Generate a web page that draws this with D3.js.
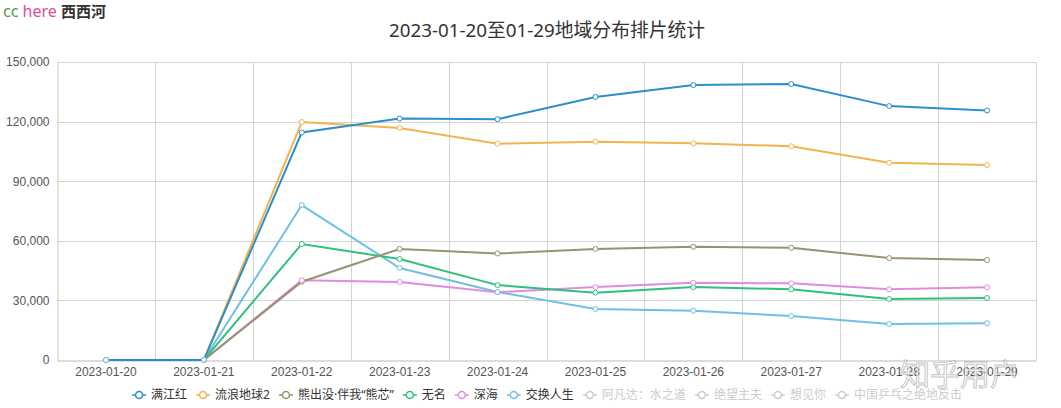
<!DOCTYPE html>
<html lang="zh">
<head>
<meta charset="UTF-8">
<title>2023-01-20至01-29地域分布排片统计</title>
<style>
  body { margin: 0; background: #fff; font-family: "Noto Sans", "Noto Sans CJK SC", sans-serif; }
  .axis text { fill: #555; font-size: 12px; }
  .grid line { stroke: #d4d4d4; stroke-width: 1; }
  .legend text { font-size: 12px; }
</style>
</head>
<body>
<div id="chart"></div>
<script src="https://cdn.jsdelivr.net/npm/d3@7/dist/d3.min.js"></script>
<script>
var dates = ['2023-01-20','2023-01-21','2023-01-22','2023-01-23','2023-01-24',
             '2023-01-25','2023-01-26','2023-01-27','2023-01-28','2023-01-29'];
var yTicks = [0, 30000, 60000, 90000, 120000, 150000];

var manjianghong = [0, 0, 114500, 121500, 121200, 132400, 138400, 138900, 127800, 125600];
var liulangdiqiu = [0, 0, 119800, 116800, 108900, 109900, 109100, 107600, 99300, 98150];
var xiongchumo   = [0, 0, 39400, 55900, 53600, 55900, 57000, 56500, 51300, 50300];
var wuming       = [0, 0, 58400, 50800, 37700, 33900, 36700, 35600, 30700, 31200];
var shenhai      = [0, 0, 40100, 39300, 34100, 36700, 38900, 38600, 35600, 36600];
var jiaohuan     = [0, 0, 78000, 46300, 34200, 25700, 24800, 22100, 18100, 18500];

var series = [
  { name: '满江红', values: manjianghong, color: '#2b8fcc', on: true },
  { name: '流浪地球2', values: liulangdiqiu, color: '#f1b44e', on: true },
  { name: '熊出没·伴我“熊芯”', values: xiongchumo, color: '#9a9170', on: true },
  { name: '无名', values: wuming, color: '#2dc17b', on: true },
  { name: '深海', values: shenhai, color: '#e08ce0', on: true },
  { name: '交换人生', values: jiaohuan, color: '#70bfe4', on: true },
  { name: '阿凡达：水之道', values: [], color: '#ccc', on: false },
  { name: '绝望主夫', values: [], color: '#ccc', on: false },
  { name: '想见你', values: [], color: '#ccc', on: false },
  { name: '中国乒乓之绝地反击', values: [], color: '#ccc', on: false }
];

var width = 1061, height = 408;
var margin = { top: 62, right: 25, bottom: 48, left: 57 };
var innerW = width - margin.left - margin.right;
var innerH = height - margin.top - margin.bottom;

var svg = d3.select('#chart').append('svg')
  .attr('width', width)
  .attr('height', height);

// watermark top-left
var wm = svg.append('text').attr('x', 3).attr('y', 17).style('font-size', '16px');
wm.append('tspan').attr('fill', '#4f9a4f').text('cc ');
wm.append('tspan').attr('fill', '#d94f9c').text('here ');
wm.append('tspan').attr('fill', '#333').style('font-weight', 'bold').style('font-size', '15px').text('西西河');

svg.append('text')
  .attr('x', 547)
  .attr('y', 37)
  .attr('text-anchor', 'middle')
  .style('font-size', '18.8px')
  .style('fill', '#333')
  .text('2023-01-20至01-29地域分布排片统计');

var g = svg.append('g')
  .attr('transform', 'translate(' + margin.left + ',' + margin.top + ')');

var x = d3.scaleBand().domain(dates).range([0, innerW]);
var y = d3.scaleLinear().domain([0, 150000]).range([innerH, 0]);

// horizontal grid
g.append('g').attr('class', 'grid')
  .selectAll('line')
  .data(yTicks.slice(1))
  .enter().append('line')
  .attr('x1', 0).attr('x2', innerW)
  .attr('y1', function(d) { return Math.round(y(d)) + 0.5; })
  .attr('y2', function(d) { return Math.round(y(d)) + 0.5; });

// vertical grid at band boundaries
g.append('g').attr('class', 'grid')
  .selectAll('line')
  .data(dates.slice(1).concat(['end']))
  .enter().append('line')
  .attr('x1', function(d, i) { return Math.round(x.step() * (i + 1)) + 0.5; })
  .attr('x2', function(d, i) { return Math.round(x.step() * (i + 1)) + 0.5; })
  .attr('y1', 0).attr('y2', innerH);

var yAxis = g.append('g').attr('class', 'axis')
  .attr('transform', 'translate(0.5,0)')
  .call(d3.axisLeft(y).tickValues(yTicks).tickSize(0).tickPadding(8).tickFormat(d3.format(',')));
yAxis.select('.domain').attr('stroke', '#ccc');

var xAxis = g.append('g').attr('class', 'axis')
  .attr('transform', 'translate(0,' + (innerH + 0.5) + ')')
  .call(d3.axisBottom(x).tickSize(0).tickPadding(7));
xAxis.select('.domain').attr('stroke', '#bbb');

var line = d3.line()
  .x(function(d, i) { return x(dates[i]) + x.bandwidth() / 2; })
  .y(function(d) { return y(d); });

var shown = series.filter(function(s) { return s.on; });

shown.slice().reverse().forEach(function(s) {
  g.append('path')
    .datum(s.values)
    .attr('fill', 'none')
    .attr('stroke', s.color)
    .attr('stroke-width', 2)
    .attr('d', line);
});
shown.forEach(function(s) {
  g.selectAll(null)
    .data(s.values)
    .enter().append('circle')
    .attr('cx', function(d, i) { return x(dates[i]) + x.bandwidth() / 2; })
    .attr('cy', function(d) { return y(d); })
    .attr('r', 2.5)
    .attr('fill', '#fff')
    .attr('stroke', s.color)
    .attr('stroke-width', 1);
});

// legend
var legend = svg.append('g').attr('class', 'legend');
var iconW = 14, gap = 5, itemGap = 9;
var items = legend.selectAll('g').data(series).enter().append('g');
items.append('line')
  .attr('x1', 0).attr('x2', iconW).attr('y1', 0).attr('y2', 0)
  .attr('stroke', function(d) { return d.color; })
  .attr('stroke-width', 1.5);
items.append('circle')
  .attr('cx', iconW / 2).attr('cy', 0).attr('r', 3.5)
  .attr('fill', '#fff')
  .attr('stroke', function(d) { return d.color; })
  .attr('stroke-width', 1.5);
items.append('text')
  .attr('x', iconW + gap)
  .attr('y', 4)
  .style('fill', function(d) { return d.on ? '#333' : '#ccc'; })
  .text(function(d) { return d.name; });

var widths = [];
items.each(function() {
  widths.push(iconW + gap + d3.select(this).select('text').node().getComputedTextLength());
});
var total = d3.sum(widths) + itemGap * (widths.length - 1);
var lx = 547 - total / 2;
items.attr('transform', function(d, i) {
  var t = 'translate(' + lx + ',395)';
  lx += widths[i] + itemGap;
  return t;
});

// watermark bottom-right
svg.append('text')
  .attr('x', 900)
  .attr('y', 385)
  .style('font-size', '30px')
  .style('fill', 'rgba(255,255,255,0.7)')
  .style('stroke', 'rgba(120,120,120,0.45)')
  .style('stroke-width', 1)
  .text('知乎用户');
</script>
</body>
</html>
